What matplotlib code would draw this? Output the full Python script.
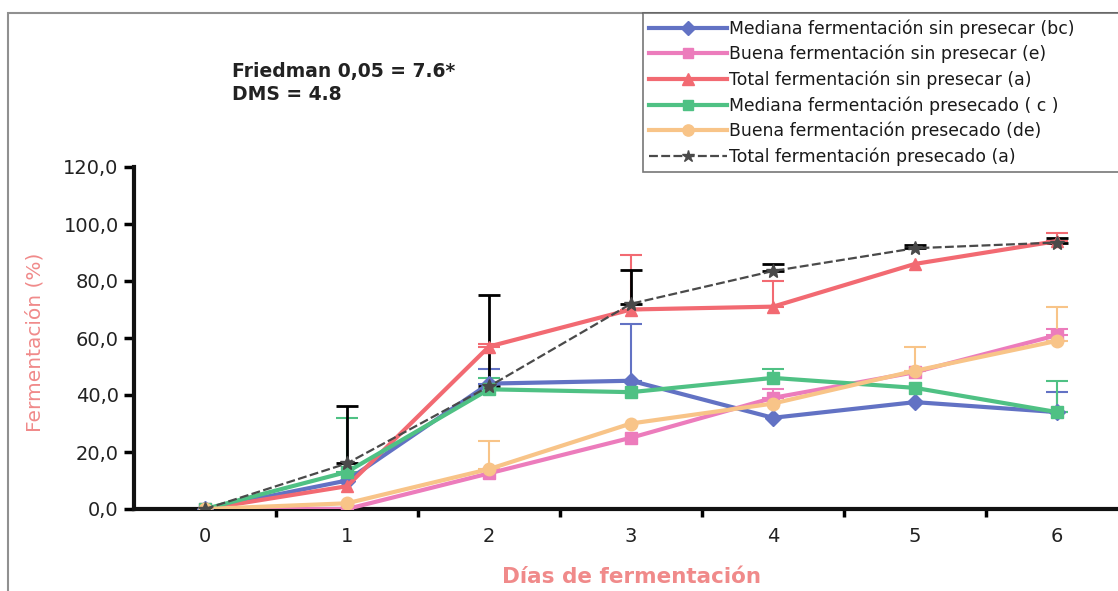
import matplotlib
matplotlib.use("Agg")
import matplotlib.pyplot as plt
from matplotlib.patches import Rectangle

dias = [0, 1, 2, 3, 4, 5, 6]
yticks = [0, 20, 40, 60, 80, 100, 120]

labels = [
    "Mediana fermentación sin presecar (bc)",
    "Buena fermentación sin presecar (e)",
    "Total fermentación sin presecar (a)",
    "Mediana fermentación presecado ( c )",
    "Buena fermentación presecado (de)",
    "Total fermentación presecado (a)",
]

mediana_sin = [0, 10, 44, 45, 32, 37.5, 34]
buena_sin = [0, 0, 12.5, 25, 39, 48, 61]
total_sin = [0, 8, 57, 70, 71, 86, 94]
mediana_pre = [0, 13, 42, 41, 46, 42.5, 34]
buena_pre = [0, 2, 14, 30, 37, 48.5, 59]
total_pre = [0, 16, 43, 72, 83.5, 91.5, 93.5]

# upper error only (0 = no bar drawn)
err_mediana_sin = [0, 0, 5, 20, 0, 0, 7]
err_buena_sin = [0, 0, 0, 0, 3, 0, 2]
err_total_sin = [0, 0, 1, 19, 9, 0, 3]
err_mediana_pre = [0, 19, 4, 0, 3, 0, 11]
err_buena_pre = [0, 0, 10, 0, 0, 8.5, 12]
err_total_pre = [0, 20, 32, 12, 2.5, 1, 1.5]

series = [
    (mediana_sin, err_mediana_sin, "#6272c4", "D", "-", 3.0, 8),
    (buena_sin, err_buena_sin, "#ec7cbc", "s", "-", 3.0, 8),
    (total_sin, err_total_sin, "#f26a72", "^", "-", 3.0, 9),
    (mediana_pre, err_mediana_pre, "#4fc184", "s", "-", 3.0, 8),
    (buena_pre, err_buena_pre, "#f8c488", "o", "-", 3.0, 9),
    (total_pre, err_total_pre, "#4a4a4a", "*", (0, (4, 1.5)), 1.6, 10),
]

fig = plt.figure(figsize=(11.18, 5.91), dpi=100)
W, H = 1118, 591

# outer frame (partially visible)
fig.patches.append(Rectangle((8 / W, -0.1), 1.2, (1 - 13 / H) + 0.1,
                             transform=fig.transFigure, fill=False,
                             edgecolor="#909090", linewidth=1.5))

ax = fig.add_axes([134 / W, 1 - 509 / H, (1128 - 134) / W, (509 - 167) / H])
handles = []
for (vals, errs, col, mk, ls, lw, ms), lab in zip(series, labels):
    ecol = "black" if col == "#4a4a4a" else col
    xs = [d for d, e in zip(dias, errs) if e > 0]
    ys = [v for v, e in zip(vals, errs) if e > 0]
    es = [e for e in errs if e > 0]
    ax.errorbar(xs, ys, yerr=[[0] * len(es), es], fmt="none",
                ecolor=ecol, elinewidth=2 if ecol == "black" else 1.5,
                capsize=8, capthick=2 if ecol == "black" else 1.5, zorder=2)
    h, = ax.plot(dias, vals, color=col, linestyle=ls, linewidth=lw,
                 marker=mk, markersize=ms, markerfacecolor=col,
                 markeredgecolor=col, label=lab, zorder=3)
    handles.append(h)

ax.set_xlim(-0.5, 6.5)
ax.set_ylim(0, 120)
ax.set_yticks(yticks)
ax.set_yticklabels([f"{v:.1f}".replace(".", ",") for v in yticks],
                   fontsize=14, color="#222222")
ax.set_xticks(dias)
ax.set_xticklabels([str(d) for d in dias], fontsize=14, color="#222222")
ax.set_xticks([d + 0.5 for d in dias[:-1]], minor=True)
ax.tick_params(axis="x", which="major", length=0, pad=13)
ax.tick_params(axis="x", which="minor", length=6, width=2.5, direction="out")
ax.tick_params(axis="y", which="major", length=7, width=2.5, direction="out", pad=4)
for s in ["top", "right"]:
    ax.spines[s].set_visible(False)
ax.spines["left"].set_linewidth(3)
ax.spines["bottom"].set_linewidth(3)
ax.spines["left"].set_color("#111111")
ax.spines["bottom"].set_color("#111111")

fig.text(35 / W, 1 - 342 / H, "Fermentación (%)", rotation=90, fontsize=14.5,
         color="#f08a8a", ha="center", va="center")
fig.text(632 / W, 1 - 577 / H, "Días de fermentación", fontsize=15.5,
         color="#f08a8a", ha="center", va="center", fontweight="bold")

fig.text(232 / W, 1 - 72 / H, "Friedman 0,05 = 7.6*", fontsize=13.5,
         fontweight="bold", color="#222222", ha="left", va="center")
fig.text(232 / W, 1 - 95 / H, "DMS = 4.8", fontsize=13.5,
         fontweight="bold", color="#222222", ha="left", va="center")

leg = fig.legend(handles=handles, labels=labels, loc="upper left",
                 bbox_to_anchor=(643 / W, 1 - 165 / H, (1132 - 643) / W, 152 / H),
                 mode="expand", fontsize=12.4,
                 frameon=True, fancybox=False, edgecolor="#555555",
                 handlelength=4.5, handletextpad=0.15, labelspacing=0.42,
                 borderpad=0.35, borderaxespad=0, markerscale=0.9)
leg.get_frame().set_linewidth(1.2)
for t in leg.get_texts():
    t.set_color("#1a1a1a")

fig.savefig("out.png", dpi=100)
